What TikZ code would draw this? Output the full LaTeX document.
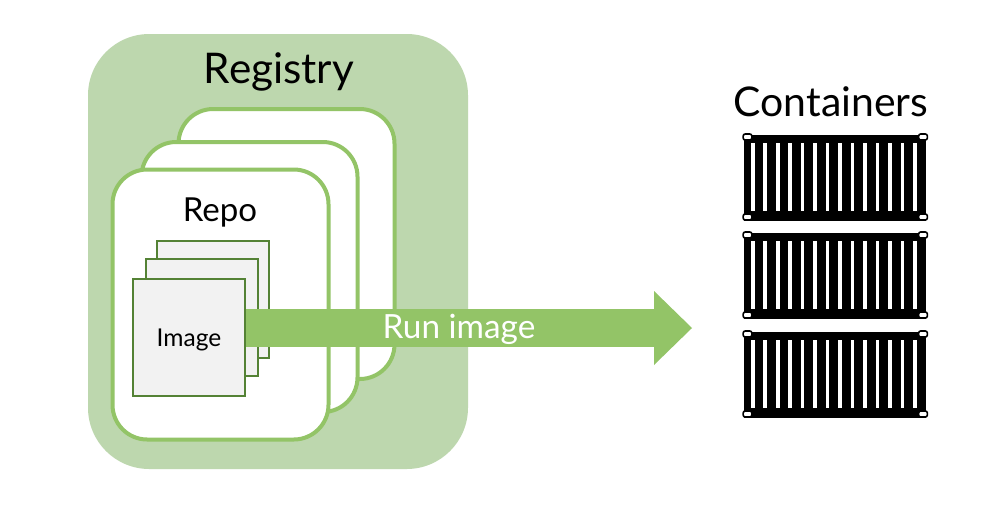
\documentclass[tikz,border=0pt]{standalone}
\usepackage{fontspec}
\setmainfont{Lato}
\usetikzlibrary{arrows.meta}
\definecolor{regfill}{HTML}{BDD7AE}
\definecolor{lgreen}{HTML}{93C467}
\definecolor{dgreen}{HTML}{548235}
\definecolor{imgfill}{HTML}{F2F2F2}
\tikzset{
  x=0.75pt,y=-0.75pt,
  registrybox/.style={fill=regfill,draw=none,rounded corners=46pt,inner sep=0pt,minimum width=285pt,minimum height=326.25pt},
  repobox/.style={fill=white,draw=lgreen,line width=3pt,rounded corners=26pt,inner sep=0pt,minimum width=162pt,minimum height=202.5pt},
  imagebox/.style={fill=imgfill,draw=dgreen,line width=1.4pt,inner sep=0pt,minimum width=84pt,minimum height=87.75pt},
  runarrow/.style={draw=lgreen,line width=28.5pt,-{Triangle[length=28.5pt,width=55.5pt,fill=lgreen,line width=0pt]}},
  bigtext/.style={font=\fontsize{31.7}{38}\selectfont,text=black,inner sep=0pt},
  contlabel/.style={font=\fontsize{30.7}{37}\selectfont,text=black,inner sep=0pt},
  midtext/.style={font=\fontsize{24.8}{30}\selectfont,text=black,inner sep=0pt},
  smalltext/.style={font=\fontsize{18.4}{22}\selectfont,text=black,inner sep=0pt},
  arrowtext/.style={font=\fontsize{25}{30}\selectfont,text=white,inner sep=0pt},
  crate/.style={fill=black,draw=none,inner sep=0pt,minimum width=137pt,minimum height=64.5pt},
  slat/.style={fill=white,draw=none},
  cornerpost/.style={fill=white,draw=black,line width=1.2pt,rounded corners=1.5pt,inner sep=0pt,minimum width=6.5pt,minimum height=4.5pt},
}
\begin{document}
\begin{tikzpicture}
\useasboundingbox (0,0) rectangle (1006,508);
\fill[white] (0,0) rectangle (1006,508);
\node[registrybox] (registry) at (278,251.5) {};
\node[bigtext] (registrylabel) at (279,72) {Registry};
\node[repobox] (repoc) at (286.5,244) {};
\node[repobox] (repob) at (249.5,277) {};
\node[repobox] (repoa) at (220.5,304.5) {};
\node[midtext] (repolabel) at (220,212) {Repo};
\node[imagebox] (imgc) at (213,299.5) {};
\node[imagebox] (imgb) at (202,317.5) {};
\coordinate (runstart) at (245,328);
\coordinate (runend) at (692,328);
\draw[runarrow] (runstart) -- (runend);
\node[imagebox] (imga) at (189,337.5) {};
\node[smalltext] (imagelabel) at (189,339.5) {Image};
\node[arrowtext] (runlabel) at (459,329.5) {Run image};
\node[contlabel] (containerslabel) at (831,102) {Containers};
\foreach \n/\dy in {a/0,b/98,c/197}{
  \node[crate] (crate\n) at (835,177.5+\dy) {};
  \foreach \i in {0,...,13}{
    \fill[slat] (751+\i*12.46,143+\dy) rectangle (754.6+\i*12.46,211+\dy);
  }
  \node[cornerpost] at (747.5,137+\dy) {};
  \node[cornerpost] at (923,137+\dy) {};
  \node[cornerpost] at (747.5,217+\dy) {};
  \node[cornerpost] at (923,217+\dy) {};
}
\end{tikzpicture}
\end{document}
